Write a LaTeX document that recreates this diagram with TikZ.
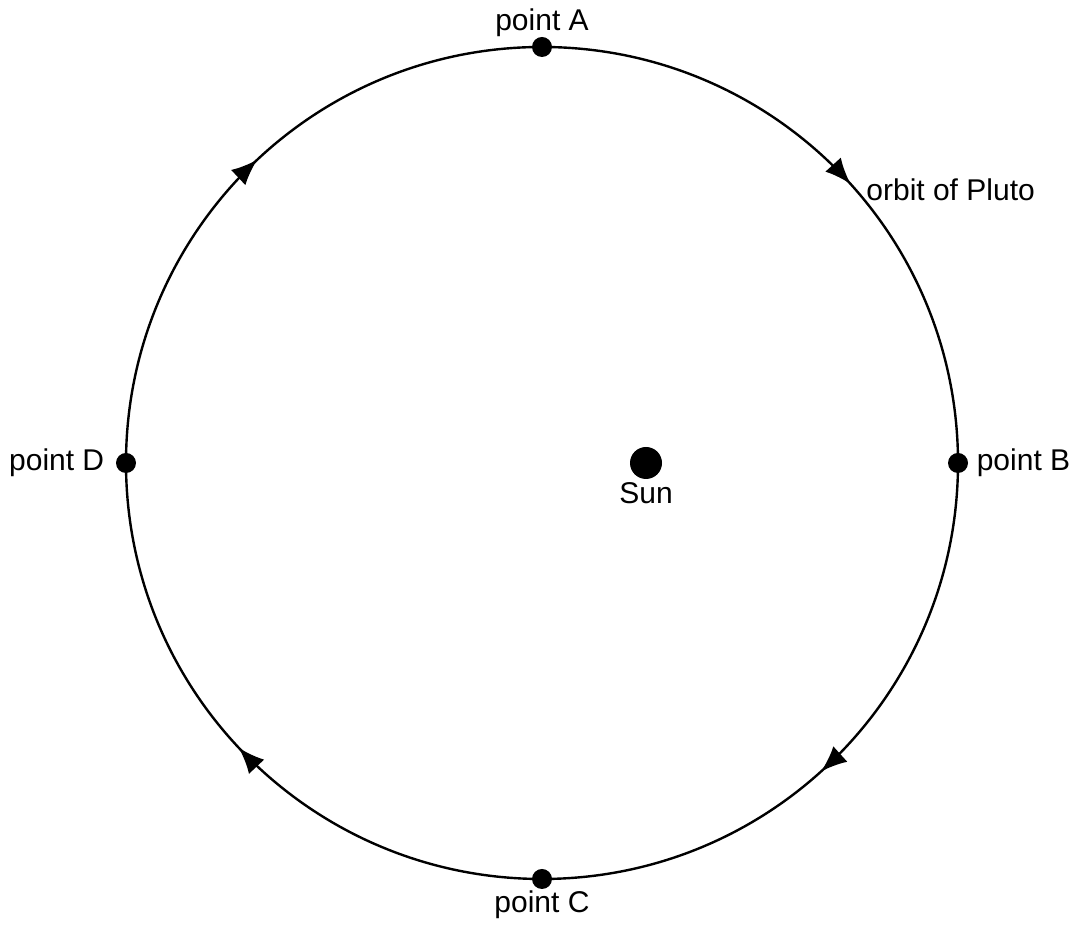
\documentclass[tikz,border=0pt]{standalone}
\usepackage{fontspec}
\setmainfont{Liberation Sans}
\usepackage{tikz}
\usetikzlibrary{arrows.meta,positioning,decorations.markings}

\begin{document}
\begin{tikzpicture}[
  x=0.5pt, y=0.5pt,
  node distance=1pt,
  dot/.style={circle,fill=black,inner sep=0pt,minimum size=10pt},
  sun/.style={circle,fill=black,inner sep=0pt,minimum size=16pt},
  lbl/.style={font=\fontsize{15}{18}\selectfont,inner sep=2pt},
  orbitarrows/.style={decoration={markings,
    mark=at position 0.133 with {\arrow{Latex[length=13pt,width=10.5pt]}},
    mark=at position 0.383 with {\arrow{Latex[length=13pt,width=10.5pt]}},
    mark=at position 0.630 with {\arrow{Latex[length=13pt,width=10.5pt]}},
    mark=at position 0.880 with {\arrow{Latex[length=13pt,width=10.5pt]}}},
    postaction={decorate}}
]
\useasboundingbox (0,0) rectangle (1078,935);
% orbit, drawn clockwise from the top
\coordinate (mid) at (542,472);
\draw[line width=1.2pt,orbitarrows] (542,888) arc[start angle=90,end angle=-270,radius=416];
\node[dot] (ptA) at (542,888) {};
\node[dot] (ptB) at (958,472) {};
\node[dot] (ptC) at (542,56) {};
\node[dot] (ptD) at (126,472) {};
\node[sun] (sun) at (646,472) {};
% labels
\node[lbl,above=-2.5pt of ptA] (labA) {point A};
\node[lbl,right=2pt of ptB] (labB) {point B};
\node[lbl,below=-1.5pt of ptC] (labC) {point C};
\node[lbl,left=3.5pt of ptD] (labD) {point D};
\node[lbl,below=-0.5pt of sun] (labSun) {Sun};
\node[lbl,anchor=west] (orbit) at (862,745) {orbit of Pluto};
\end{tikzpicture}
\end{document}
